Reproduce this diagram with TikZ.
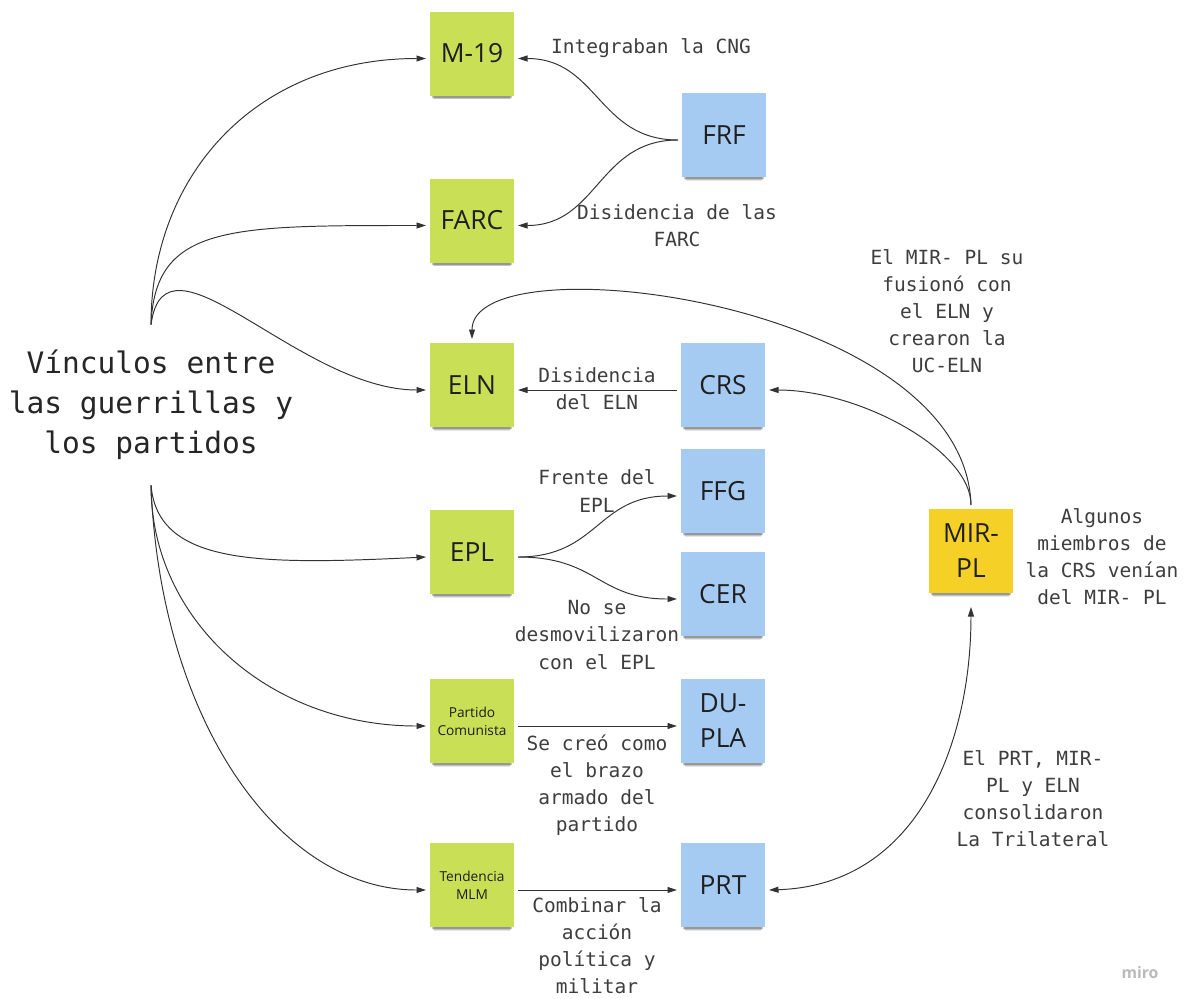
\documentclass[tikz,border=0pt]{standalone}
\usepackage{fontspec}
\setmainfont{Open Sans}
\newfontfamily\monof{DejaVu Sans Mono}
\usetikzlibrary{arrows.meta,shadows}
\definecolor{stgreen}{HTML}{C9DF56}
\definecolor{stblue}{HTML}{A6CBF3}
\definecolor{styellow}{HTML}{F5D128}
\definecolor{linec}{HTML}{333333}
\definecolor{labc}{HTML}{3E3E3E}
\begin{document}
\begin{tikzpicture}[x=0.2mm,y=-0.2mm,
  note/.style={minimum width=16.8mm, minimum height=16.8mm, inner sep=0pt, outer sep=0.8mm,
    align=center, font=\fontsize{15}{20}\selectfont, text=black!88,
    drop shadow={shadow xshift=0mm, shadow yshift=-1.8mm, shadow scale=0.90, opacity=0.10, fill=black},
    drop shadow={shadow xshift=0mm, shadow yshift=-1.3mm, shadow scale=0.93, opacity=0.15, fill=black},
    drop shadow={shadow xshift=0mm, shadow yshift=-0.8mm, shadow scale=0.96, opacity=0.22, fill=black}},
  gnote/.style={note, fill=stgreen},
  bnote/.style={note, fill=stblue},
  ynote/.style={note, fill=styellow},
  smalltext/.style={font=\fontsize{7.8}{10.2}\selectfont},
  lab/.style={font=\monof\fontsize{11.1}{15.4}\selectfont, text=labc, align=center, inner sep=0pt},
  rootlab/.style={font=\monof\fontsize{16.8}{22.8}\selectfont, text=black!85, align=center, inner xsep=0pt, inner ysep=5mm},
  conn/.style={draw=linec, line width=0.55pt},
  >={Triangle[length=1.9mm,width=1.2mm]}
]
\useasboundingbox[fill=white] (0,0) rectangle (1183,998);

% sticky notes
\node[gnote] (m19) at (472,53.5) {M-19};
\node[gnote] (farc) at (472,220.5) {FARC};
\node[gnote] (eln) at (472,385) {ELN};
\node[gnote] (epl) at (472,552) {EPL};
\node[gnote, smalltext] (pc) at (472,721) {Partido\\Comunista};
\node[gnote, smalltext] (tmlm) at (472,885) {Tendencia\\MLM};
\node[bnote] (frf) at (724,135) {FRF};
\node[bnote] (crs) at (723,385) {CRS};
\node[bnote] (ffg) at (723,491) {FFG};
\node[bnote] (cer) at (723,594) {CER};
\node[bnote] (dupla) at (723,721) {DU-\\PLA};
\node[bnote] (prt) at (723,885) {PRT};
\node[ynote] (mir) at (971,551) {MIR-\\PL};

% root text
\node[rootlab] (root) at (151,405) {Vínculos entre\\las guerrillas y\\los partidos};

% connectors from root
\draw[conn,->] (root.north) .. controls +(0,-150) and +(-170,0) .. ([yshift=-1mm]m19.west);
\draw[conn,->] (root.north) .. controls +(4,-100) and +(-197,0) .. ([yshift=-1mm]farc.west);
\draw[conn,->] (root.north) .. controls +(14,-105) and +(-127,0) .. ([yshift=-1mm]eln.west);
\draw[conn,->] (root.south) .. controls +(7,80) and +(-167,8) .. ([yshift=-1mm]epl.west);
\draw[conn,->] (root.south) .. controls +(0,135) and +(-157,0) .. ([yshift=-1mm]pc.west);
\draw[conn,->] (root.south) .. controls +(9,235) and +(-147,0) .. ([yshift=-1mm]tmlm.west);

% other connectors
\draw[conn,->] ([yshift=-1mm]frf.west) .. controls +(-80,0) and +(80,0) .. ([yshift=-1mm]m19.east);
\draw[conn,->] ([yshift=-1mm]frf.west) .. controls +(-80,0) and +(80,0) .. ([yshift=-1mm]farc.east);
\draw[conn,->] ([yshift=-1mm]crs.west) -- ([yshift=-1mm]eln.east);
\draw[conn,->] ([yshift=-1mm]epl.east) .. controls +(80,0) and +(-80,0) .. ([yshift=-1mm]ffg.west);
\draw[conn,->] ([yshift=-1mm]epl.east) .. controls +(80,0) and +(-80,0) .. ([yshift=-1mm]cer.west);
\draw[conn,->] ([yshift=-1mm]pc.east) -- ([yshift=-1mm]dupla.west);
\draw[conn,->] ([yshift=-1mm]tmlm.east) -- ([yshift=-1mm]prt.west);
\draw[conn,->] (mir.north) .. controls +(0,-55) and +(90,0) .. ([yshift=-1mm]crs.east);
\draw[conn,->] (mir.north) .. controls +(-6,-205) and +(0,-99) .. (eln.north);
\draw[conn,<->] ([yshift=-1mm]prt.east) .. controls +(151,-5) and +(0,133) .. ([yshift=-2mm]mir.south);

% labels
\node[lab] (l1) at (651,48) {Integraban la CNG};
\node[lab] (l2) at (677,226) {Disidencia de las\\FARC};
\node[lab] (l3) at (597,389) {Disidencia\\del ELN};
\node[lab] (l4) at (597,491) {Frente del\\EPL};
\node[lab] (l5) at (597,635) {No se\\desmovilizaron\\con el EPL};
\node[lab] (l6) at (597,785) {Se creó como\\el brazo\\armado del\\partido};
\node[lab] (l7) at (597,946) {Combinar la\\acción\\política y\\militar};
\node[lab] (l8) at (947,311) {El MIR- PL su\\fusionó con\\el ELN y\\crearon la\\UC-ELN};
\node[lab] (l9) at (1102,557) {Algunos\\miembros de\\la CRS venían\\del MIR- PL};
\node[lab] (l10) at (1033,799) {El PRT, MIR-\\PL y ELN\\consolidaron\\La Trilateral};

\node[font=\bfseries\fontsize{9}{9}\selectfont, text=black!27, inner sep=0pt] (miro) at (1140,973) {miro};
\end{tikzpicture}
\end{document}
